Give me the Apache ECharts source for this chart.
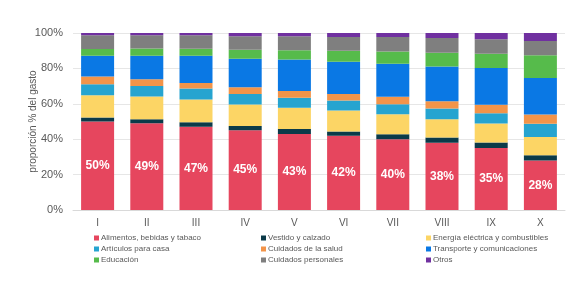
<!DOCTYPE html>
<html>
<head>
<meta charset="utf-8">
<script src="https://cdn.jsdelivr.net/npm/echarts@6/dist/echarts.min.js"></script>
<style>
  html, body { margin: 0; padding: 0; background: #fff; }
  #chart { width: 581px; height: 286px; }
</style>
</head>
<body>
<div id="chart"></div>
<script>
var deciles = ['I', 'II', 'III', 'IV', 'V', 'VI', 'VII', 'VIII', 'IX', 'X'];

var alimentos   = [50, 49, 47, 45, 43, 42, 40, 38, 35, 28];
var vestido     = [2.3, 2.3, 2.6, 2.4, 2.8, 2.4, 2.8, 3.0, 3.2, 3.0];
var energia     = [12.6, 12.8, 12.8, 12.2, 12.0, 11.8, 11.3, 10.3, 10.7, 10.2];
var articulos   = [6.2, 6.0, 6.2, 6.0, 5.6, 5.6, 5.6, 6.0, 5.8, 7.5];
var salud       = [4.3, 3.8, 3.2, 3.8, 3.9, 3.8, 4.3, 4.1, 4.7, 5.3];
var transporte  = [11.7, 13.2, 15.4, 16.0, 17.7, 18.2, 18.6, 19.7, 20.8, 20.6];
var educacion   = [3.8, 4.1, 3.9, 5.1, 5.3, 6.2, 7.0, 7.7, 8.1, 12.8];
var personales  = [7.8, 7.5, 7.6, 7.6, 7.8, 7.7, 8.1, 8.4, 8.1, 8.1];
var otros       = [1.3, 1.3, 1.3, 1.9, 1.9, 2.3, 2.3, 2.8, 3.6, 4.5];

var yTicks = [0, 20, 40, 60, 80, 100];

var seriesDefs = [
    { name: 'Alimentos, bebidas y tabaco', data: alimentos, color: '#E6465E' },
    { name: 'Vestido y calzado', data: vestido, color: '#0B3A49' },
    { name: 'Energía eléctrica y combustibles', data: energia, color: '#FCD565' },
    { name: 'Artículos para casa', data: articulos, color: '#26A4D0' },
    { name: 'Cuidados de la salud', data: salud, color: '#F39449' },
    { name: 'Transporte y comunicaciones', data: transporte, color: '#0A78E4' },
    { name: 'Educación', data: educacion, color: '#56BB4B' },
    { name: 'Cuidados personales', data: personales, color: '#7F7F7F' },
    { name: 'Otros', data: otros, color: '#7030A0' }
];

var series = seriesDefs.map(function(s, i){
    return {
        name: s.name,
        type: 'bar',
        stack: 'total',
        barWidth: 33,
        data: s.data,
        itemStyle: { color: s.color },
        label: i === 0 ? {
            show: true,
            position: 'inside',
            color: '#fff',
            fontWeight: 'bold',
            fontSize: 12,
            formatter: function(p){ return Math.round(p.value) + '%'; }
        } : { show: false }
    };
});

function legendCol(left, names){
    return {
        orient: 'vertical',
        left: left,
        top: 229,
        itemWidth: 5,
        itemHeight: 5,
        itemGap: 3,
        icon: 'rect',
        selectedMode: false,
        textStyle: { fontSize: 8, color: '#595959', padding: [0, 0, 0, -3] },
        data: names
    };
}

var chart = echarts.init(document.getElementById('chart'));
chart.setOption({
    animation: false,
    textStyle: { fontFamily: 'Liberation Sans, Arial, sans-serif' },
    grid: { left: 73, right: 16, top: 33, height: 177 },
    legend: [
        legendCol(89, [seriesDefs[0].name, seriesDefs[3].name, seriesDefs[6].name]),
        legendCol(256, [seriesDefs[1].name, seriesDefs[4].name, seriesDefs[7].name]),
        legendCol(421, [seriesDefs[2].name, seriesDefs[5].name, seriesDefs[8].name])
    ],
    xAxis: {
        type: 'category',
        data: deciles,
        axisTick: { show: false },
        axisLine: { lineStyle: { color: '#d9d9d9' } },
        axisLabel: { color: '#595959', fontSize: 10, margin: 8 }
    },
    yAxis: {
        type: 'value',
        min: yTicks[0],
        max: yTicks[yTicks.length - 1],
        interval: 20,
        name: 'proporción % del gasto',
        nameLocation: 'middle',
        nameGap: 35,
        nameMoveOverlap: false,
        nameTextStyle: { color: '#595959', fontSize: 10 },
        axisLabel: { color: '#595959', fontSize: 11, margin: 10, formatter: '{value}%' },
        splitLine: { lineStyle: { color: '#e6e6e6' } }
    },
    series: series
});
</script>
</body>
</html>
